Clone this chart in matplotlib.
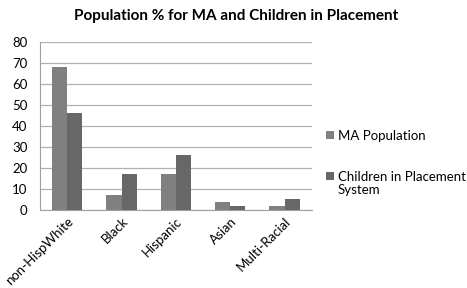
import numpy as np
import matplotlib.pyplot as plt

# data
categories = ['non-HispWhite', 'Black', 'Hispanic', 'Asian', 'Multi-Racial']
ma_population = [68, 7, 17, 4, 2]
children_placement = [46, 17, 26, 2, 5]

plt.rcParams['font.family'] = ['Lato', 'DejaVu Sans']

fig = plt.figure(figsize=(4.67, 2.88), dpi=100)
ax = fig.add_axes([0.0857, 0.271, 0.582, 0.583])

x = np.arange(len(categories))
w = 0.28
ax.bar(x - w/2, ma_population, w, color='#808080', label='MA Population', zorder=3)
ax.bar(x + w/2, children_placement, w, color='#676767',
       label='Children in Placement', zorder=3)

ax.set_xlim(-0.5, len(categories) - 0.5)
ax.set_ylim(0, 80)
ax.set_yticks(range(0, 81, 10))
ax.yaxis.grid(True, color='#b0b0b0', linewidth=0.9, zorder=0)
ax.set_axisbelow(True)
for s in ['top', 'right']:
    ax.spines[s].set_visible(False)
for s in ['left', 'bottom']:
    ax.spines[s].set_color('#a0a0a0')
ax.tick_params(axis='both', length=0, labelsize=9.5, colors='black')
ax.tick_params(axis='y', pad=9)
ax.set_xticks(x)
ax.set_xticklabels(categories, rotation=45, ha='right', rotation_mode='anchor')

ax.set_title('Population % for MA and Children in Placement',
             fontsize=11, fontweight='bold', x=0.72, pad=16)

leg = ax.legend(loc='upper left', bbox_to_anchor=(1.01, 0.548), frameon=False,
                fontsize=9.5, handlelength=0.6, handleheight=0.6,
                handletextpad=0.25, labelspacing=2.2)

# second line of the wrapped legend label
fig.canvas.draw()
bb = leg.texts[1].get_window_extent()
fig.text(bb.x0 / fig.bbox.width, (bb.y0 - 1) / fig.bbox.height, 'System',
         fontsize=9.5, va='top', ha='left')

fig.savefig('out.png', dpi=100)
